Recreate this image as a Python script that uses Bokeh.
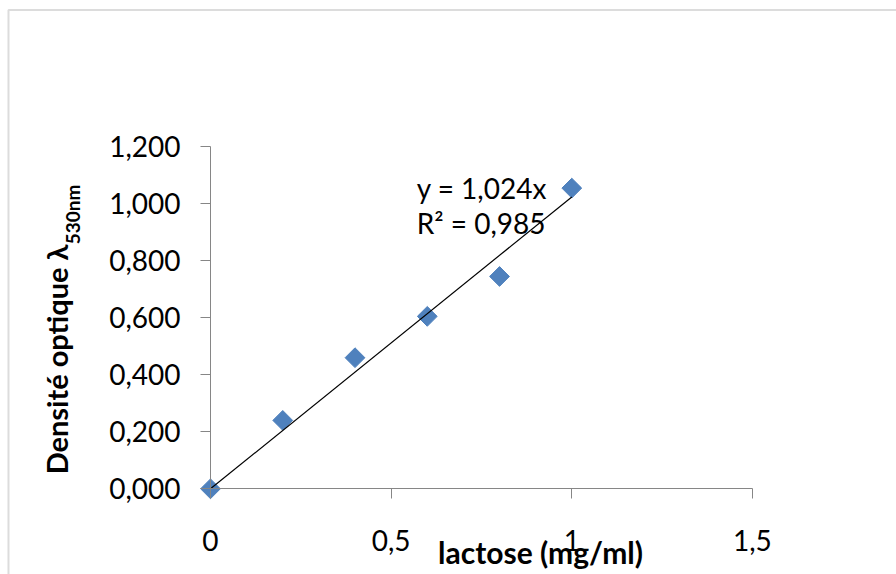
import math
from bokeh.plotting import figure
from bokeh.models import Range1d, FixedTicker, Label, BoxAnnotation
from bokeh.embed import file_html
from bokeh.resources import INLINE

# ---- data ----
lactose = [0.0, 0.2, 0.4, 0.6, 0.8, 1.0]
densite = [0.0, 0.240, 0.460, 0.605, 0.745, 1.055]
slope = 1.024
trend_x = [0.0, 1.0]
x_ticks = [0, 0.5, 1, 1.5]
x_tick_labels = ["0", "0,5", "1", "1,5"]
y_ticks = [0, 0.2, 0.4, 0.6, 0.8, 1.0, 1.2]
y_tick_labels = ["0,000", "0,200", "0,400", "0,600", "0,800", "1,000", "1,200"]
eq_text = "y = 1,024x"
r2_text = "R\u00b2 = 0,985"
x_title = "lactose (mg/ml)"
y_title = "Densité optique λ"
y_title_sub = "530nm"

FONT = "Lato"
AXIS_GRAY = "#868686"
BLUE = "#4F81BD"

p = figure(width=896, height=574, output_backend="svg", toolbar_location=None,
           x_range=Range1d(-0.5812, 1.8987), y_range=Range1d(-0.3007, 1.7133),
           min_border_left=0, min_border_right=0,
           min_border_top=0, min_border_bottom=0)
p.outline_line_color = None
p.background_fill_color = "white"
p.border_fill_color = "white"
p.xgrid.visible = False
p.ygrid.visible = False

for ax in (p.xaxis[0], p.yaxis[0]):
    ax.fixed_location = 0
    ax.axis_line_color = AXIS_GRAY
    ax.axis_line_width = 1
    ax.major_tick_line_color = AXIS_GRAY
    ax.major_tick_in = 0
    ax.major_tick_out = 10
    ax.minor_tick_line_color = None
    ax.major_label_text_font = FONT
    ax.major_label_text_font_size = "28px"
    ax.major_label_text_color = "black"

p.xaxis[0].bounds = (0, 1.5)
p.yaxis[0].bounds = (0, 1.2)
p.xaxis[0].ticker = FixedTicker(ticks=x_ticks)
p.yaxis[0].ticker = FixedTicker(ticks=y_ticks)
p.xaxis[0].major_label_overrides = {t: l for t, l in zip(x_ticks, x_tick_labels)}
p.yaxis[0].major_label_overrides = {t: l for t, l in zip(y_ticks, y_tick_labels)}
p.xaxis[0].major_label_standoff = 31
p.yaxis[0].major_label_standoff = 20

# points
p.scatter(lactose, densite, marker="square", angle=math.pi / 4, size=14,
          fill_color=BLUE, line_color=BLUE)
# trendline (drawn over the markers)
p.line(trend_x, [slope * x for x in trend_x], line_color="black", line_width=1.2)

# equation
p.add_layout(Label(x=0.571, y=1.0568, text=eq_text, text_font=FONT,
                   text_font_size="28px", text_color="black",
                   text_baseline="alphabetic", text_align="left"))
p.add_layout(Label(x=0.571, y=0.9340, text=r2_text, text_font=FONT,
                   text_font_size="28px", text_color="black",
                   text_baseline="alphabetic", text_align="left"))

# axis titles
p.add_layout(Label(x=0.9134, y=-0.2214, text=x_title, text_font=FONT,
                   text_font_style="bold", text_font_size="30px",
                   text_color="black", text_align="center",
                   text_baseline="alphabetic"))
p.add_layout(Label(x=-0.4262, y=0.4540, text=y_title, text_font=FONT,
                   text_font_style="bold", text_font_size="29px",
                   text_color="black", text_align="center",
                   text_baseline="middle", angle=math.pi / 2))
p.add_layout(Label(x=-0.3820, y=0.9628, text=y_title_sub, text_font=FONT,
                   text_font_style="bold", text_font_size="19px",
                   text_color="black", text_align="center",
                   text_baseline="middle", angle=math.pi / 2))

# chart-area frame (top and left edges visible)
p.add_layout(BoxAnnotation(left=-0.5591, top=1.680, right=3.0, bottom=-1.0,
                           fill_color=None, line_color="#8c8c8c", line_width=2,
                           level="overlay"))

open("out.html", "w").write(file_html(p, INLINE))
